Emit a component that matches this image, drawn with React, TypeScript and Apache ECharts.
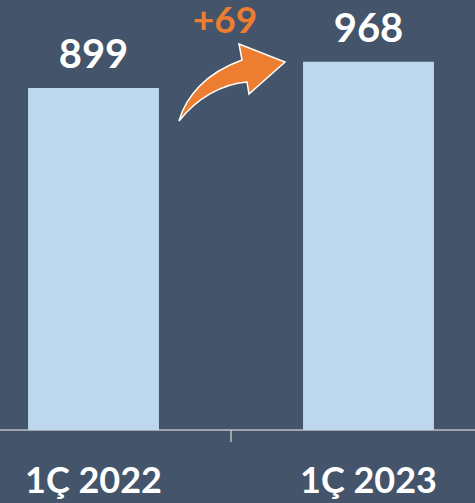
import React, { useEffect, useRef } from "react";
import * as echarts from "echarts";

const categories = ["1Ç 2022", "1Ç 2023"];
const values = [899, 968];
const diffLabel = "+" + (values[1] - values[0]);

const arrowPath =
  "M179,121 C186,96 206,73 242,60 L239,44 L285,62 L249,94 L247,82 C222,84 197,98 179,121 Z";

const OFFSET = 44;

let registered = false;
function registerArrow() {
  if (registered) return;
  registered = true;
  echarts.graphic.registerShape("curvedArrow", echarts.graphic.extendPath(arrowPath, {}) as any);
}

export default function App() {
  const ref = useRef<HTMLDivElement>(null);
  useEffect(() => {
    if (!ref.current) return;
    registerArrow();
    const chart = echarts.init(ref.current, undefined, { renderer: "svg" });
    const font = "Lato, 'DejaVu Sans', sans-serif";
    chart.setOption({
      animation: false,
      backgroundColor: "#44546A",
      grid: { left: 0, right: 0, top: 0, bottom: 73, containLabel: false },
      xAxis: {
        type: "category",
        data: categories,
        axisLine: { show: true, lineStyle: { color: "#BFBFBF", width: 1.5 } },
        axisTick: { show: true, length: 12, lineStyle: { color: "#BFBFBF", width: 1.5 } },
        axisLabel: {
          color: "#FFFFFF",
          fontFamily: font,
          fontWeight: "bold",
          fontSize: 36,
          margin: 31,
        },
      },
      yAxis: {
        type: "value",
        min: 0,
        max: 1130,
        show: false,
        splitLine: { show: false },
      },
      series: [
        {
          type: "bar",
          data: values,
          barWidth: "47.6%",
          itemStyle: { color: "#BDD7EE" },
          label: {
            show: true,
            position: "top",
            distance: 15,
            color: "#FFFFFF",
            fontFamily: font,
            fontWeight: "bold",
            fontSize: 40,
          },
        },
      ],
      graphic: [
        {
          type: "group",
          x: OFFSET,
          y: 0,
          children: [
            {
              type: "curvedArrow",
              x: 0,
              y: 0,
              style: { fill: "#ED7D31", stroke: "#FFFFFF", lineWidth: 1.5 },
            },
            {
              type: "text",
              x: 225,
              y: 0,
              style: {
                text: diffLabel,
                fill: "#ED7D31",
                font: "bold 37px " + font,
                textAlign: "center",
                textVerticalAlign: "top",
              },
            },
          ],
        },
      ],
    });
    return () => chart.dispose();
  }, []);
  return (
    <div
      style={{
        position: "fixed",
        left: 0,
        top: 0,
        width: 475,
        height: 503,
        overflow: "hidden",
        background: "#44546A",
      }}
    >
      <div
        ref={ref}
        style={{ position: "absolute", left: -OFFSET, top: 0, width: 550, height: 503 }}
      />
    </div>
  );
}
